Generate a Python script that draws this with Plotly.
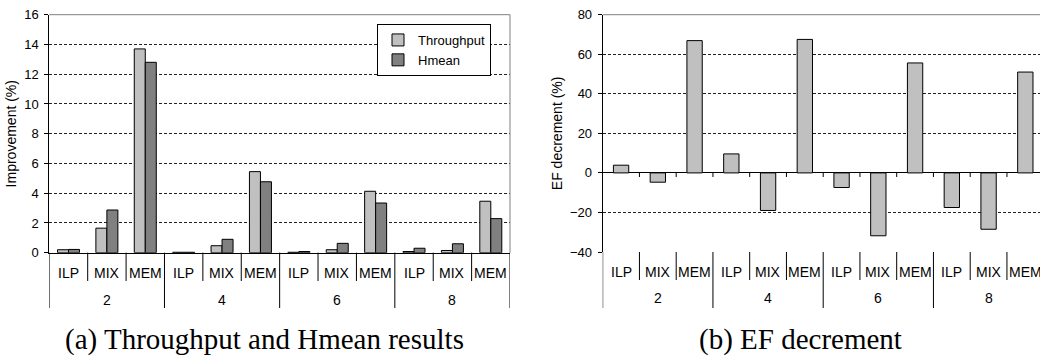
import plotly.graph_objects as go

groups = ["2", "4", "6", "8"]
workloads = ["ILP", "MIX", "MEM"]
throughput = [0.2, 1.65, 13.7, 0.03, 0.47, 5.45, 0.03, 0.2, 4.13, 0.08, 0.15, 3.46]
hmean = [0.22, 2.87, 12.8, 0.03, 0.9, 4.77, 0.08, 0.63, 3.34, 0.3, 0.6, 2.29]
ef_decrement = [3.9, -4.7, 66.9, 9.6, -19.0, 67.5, -7.4, -31.8, 55.6, -17.5, -28.5, 51.0]
left_ticks = [0, 2, 4, 6, 8, 10, 12, 14, 16]
right_ticks = [-40, -20, 0, 20, 40, 60, 80]

W, H = 1040, 356
FONT = "Liberation Sans, Arial, sans-serif"
SERIF = "Liberation Serif, Times New Roman, serif"


def px(x):
    return x / W


def py(y):
    return 1 - y / H


n = len(groups) * len(workloads)
idx = list(range(n))

fig = go.Figure()
fig.add_trace(go.Bar(x=idx, y=throughput, name="Throughput", xaxis="x", yaxis="y",
                     marker=dict(color="#C0C0C0", line=dict(color="black", width=1))))
fig.add_trace(go.Bar(x=idx, y=hmean, name="Hmean", xaxis="x", yaxis="y",
                     marker=dict(color="#808080", line=dict(color="black", width=1))))
fig.add_trace(go.Bar(x=idx, y=ef_decrement, name="EF decrement", xaxis="x2", yaxis="y2",
                     width=0.417, showlegend=False,
                     marker=dict(color="#C0C0C0", line=dict(color="black", width=1))))

# geometry (pixels)
L_x0, L_x1 = 49.3, 510.0
L_ytop, L_ybot = 14.7, 252.7
R_x0, R_x1 = 602.7, 1040.0
R_ytop, R_ybot = 14.7, 252.0
R_catw = 36.75
R_zero_y = 173.0

grid = dict(showgrid=True, gridcolor="#222222", gridwidth=1, griddash="3px,2px")

fig.update_layout(
    template="none",
    width=W, height=H,
    margin=dict(l=0, r=0, t=0, b=0, autoexpand=False),
    paper_bgcolor="white", plot_bgcolor="white",
    barmode="group", bargap=0.427, bargroupgap=0,
    font=dict(family=FONT, size=13, color="black"),
    xaxis=dict(domain=[px(L_x0), px(L_x1)], range=[-0.5, n - 0.5], anchor="y",
               automargin=False,
               showticklabels=False, ticks="", showgrid=False, zeroline=False,
               showline=True, linecolor="black", linewidth=1),
    yaxis=dict(domain=[py(L_ybot), py(L_ytop)], range=[0, 16], anchor="x",
               automargin=False,
               tickvals=left_ticks, ticks="outside", ticklen=4, tickcolor="black",
               showline=True, linecolor="black", linewidth=1, zeroline=False,
               tickfont=dict(size=13), ticklabelstandoff=3,
               title=dict(text="Improvement (%)", font=dict(size=14), standoff=4),
               **grid),
    xaxis2=dict(domain=[px(R_x0), px(R_x1)],
                range=[-0.5, -0.5 + (R_x1 - R_x0) / R_catw], anchor="y2",
                automargin=False,
                showticklabels=False, ticks="", showgrid=False, zeroline=False,
                showline=False),
    yaxis2=dict(domain=[py(R_ybot), py(R_ytop)], range=[-40, 80], anchor="x2",
                automargin=False,
                tickvals=right_ticks, ticks="outside", ticklen=4, tickcolor="black",
                showline=True, linecolor="black", linewidth=1,
                zeroline=True, zerolinecolor="black", zerolinewidth=1,
                tickfont=dict(size=13), ticklabelstandoff=3,
                title=dict(text="EF decrement (%)", font=dict(size=14), standoff=4),
                **grid),
    legend=dict(x=px(491), y=py(24), xanchor="right", yanchor="top",
                bgcolor="white", bordercolor="black", borderwidth=1,
                font=dict(size=13, family=FONT), itemwidth=30,
                tracegroupgap=0),
)

shapes = []
annotations = []
# plot-area borders (gray)
shapes.append(dict(type="line", xref="paper", yref="paper", x0=px(L_x0), x1=px(L_x1),
                   y0=py(L_ytop), y1=py(L_ytop), line=dict(color="#808080", width=1)))
shapes.append(dict(type="line", xref="paper", yref="paper", x0=px(L_x1), x1=px(L_x1),
                   y0=py(L_ytop), y1=py(L_ybot), line=dict(color="#808080", width=1)))
shapes.append(dict(type="line", xref="paper", yref="paper", x0=px(R_x0), x1=px(R_x1),
                   y0=py(R_ytop), y1=py(R_ytop), line=dict(color="#808080", width=1)))

nw = len(workloads)
for (xa, ybot, cat_end, grp_end, cat_y, grp_y) in [
        ("x", L_ybot, 281, 308, 273, 300),
        ("x2", R_ybot, 280, 308, 272, 298)]:
    for b in range(n + 1):
        xb = b - 0.5
        is_group = (b % nw == 0)
        shapes.append(dict(type="line", xref=xa, yref="paper", x0=xb, x1=xb,
                           y0=py(ybot), y1=py(grp_end if is_group else cat_end),
                           line=dict(color="black", width=1)))
    for i in idx:
        annotations.append(dict(xref=xa, yref="paper", x=i, y=py(cat_y),
                                text=workloads[i % nw], showarrow=False,
                                font=dict(size=14, family=FONT), xanchor="center",
                                yanchor="middle"))
    for g, name in enumerate(groups):
        annotations.append(dict(xref=xa, yref="paper", x=g * nw + (nw - 1) / 2,
                                y=py(grp_y), text=name, showarrow=False,
                                font=dict(size=14, family=FONT), xanchor="center",
                                yanchor="middle"))

# small ticks on the zero line of the right chart
for b in range(1, n + 1):
    xb = b - 0.5
    shapes.append(dict(type="line", xref="x2", yref="paper", x0=xb, x1=xb,
                       y0=py(R_zero_y), y1=py(R_zero_y + 4),
                       line=dict(color="black", width=1)))

annotations.append(dict(xref="paper", yref="paper", x=px(264), y=py(339),
                        text="(a) Throughput and Hmean results", showarrow=False,
                        font=dict(size=29, family=SERIF), xanchor="center", yanchor="middle"))
annotations.append(dict(xref="paper", yref="paper", x=px(800), y=py(339),
                        text="(b) EF decrement", showarrow=False,
                        font=dict(size=29, family=SERIF), xanchor="center", yanchor="middle"))

fig.update_layout(shapes=shapes, annotations=annotations)
fig.write_html("out.html",
               config={"displayModeBar": False},
               post_script="document.body.style.margin='0';document.body.style.overflow='hidden';")
